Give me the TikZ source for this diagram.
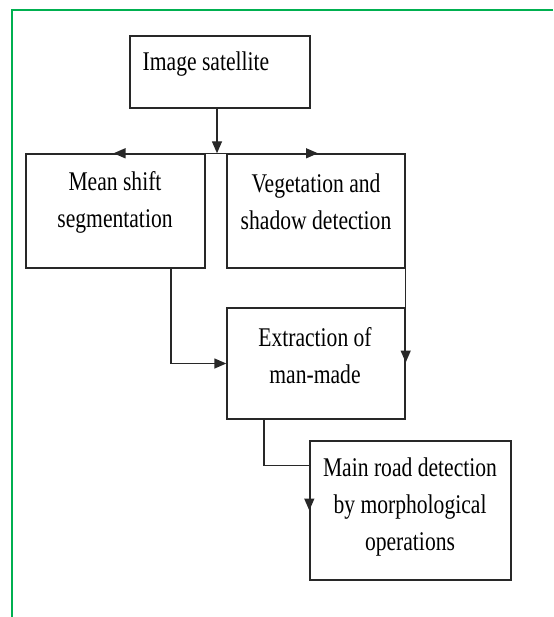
\documentclass[tikz,border=0pt]{standalone}
\usepackage{fontspec}
\setmainfont{Liberation Serif}[FakeStretch=0.8]
\usetikzlibrary{arrows.meta,calc}
\definecolor{frameGreen}{RGB}{0,176,80}
\definecolor{lineGray}{RGB}{40,40,40}
\begin{document}
\begin{tikzpicture}[x=1pt,y=-1pt,
  box/.style={draw=lineGray,line width=1.4pt,rectangle,inner sep=0pt},
  txt/.style={align=center,font=\fontsize{27}{37}\selectfont,inner sep=0pt},
  conn/.style={draw=lineGray,line width=1.4pt},
  arr/.style={conn,-{Triangle[length=12pt,width=10pt]}}]
\useasboundingbox (0,0) rectangle (553,617);
% frame
\draw[frameGreen,line width=2.2pt] (553,10) -- (12,10) -- (12,617);
% boxes
\node[box,minimum width=180pt,minimum height=72pt] (sat) at (220,72) {};
\node[box,minimum width=179pt,minimum height=114pt] (mean) at (115.5,211) {};
\node[box,minimum width=178pt,minimum height=114pt] (veg) at (316,211) {};
\node[box,minimum width=178pt,minimum height=111pt] (extr) at (316,363.5) {};
\node[box,minimum width=201pt,minimum height=139pt] (road) at (410.5,510.5) {};
% texts
\node[txt] (tsat) at (206,64) {Image satellite};
\node[txt] (tmean) at (115,202) {Mean shift\\segmentation};
\node[txt] (tveg) at (316,202) {Vegetation and\\shadow detection};
\node[txt] (textr) at (315,356) {Extraction of\\man-made};
\node[txt] (troad) at (410,507) {Main road detection\\by morphological\\operations};
% connectors
\coordinate (j) at ($(sat.south)+(-3,0)$);
\coordinate (jj) at (j |- mean.north);
\draw[arr] (j) -- (jj);
\draw[arr] (jj) -- ($(mean.north)+(-2,0)$);
\draw[arr] (jj) -- ($(veg.north)+(2,0)$);
\draw[conn] (mean.north east) -- (veg.north west);
\coordinate (ms) at ($(mean.south)+(55.5,0)$);
\draw[arr] (ms) |- (extr.west);
\draw[arr] (veg.south east) -- ($(extr.east)+(0,-1)$);
\coordinate (es) at ($(extr.south)+(-52,0)$);
\coordinate (rk) at ($(road.north west)+(0,25)$);
\draw[conn] (es) |- (rk);
\draw[arr] (rk) -- (road.west);
\end{tikzpicture}
\end{document}
